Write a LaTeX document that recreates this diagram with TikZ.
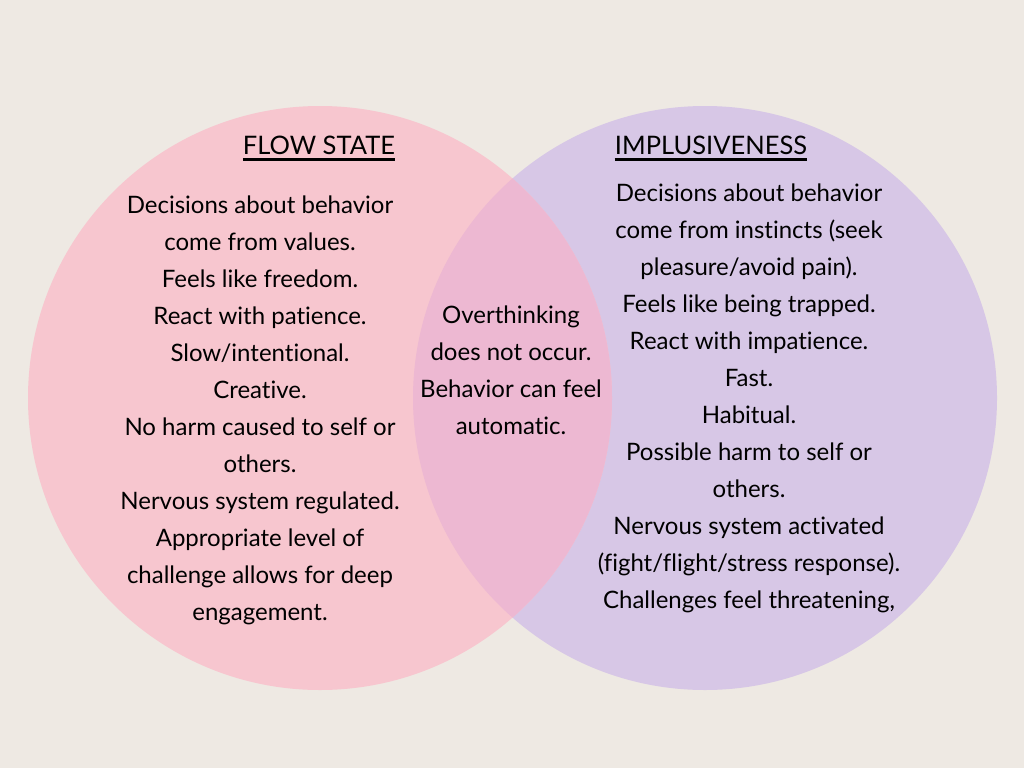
\documentclass[tikz,border=0pt]{standalone}
\usepackage{fontspec}
\setmainfont{Lato}[Ligatures=NoCommon]
\usepackage{tikz}
\usetikzlibrary{positioning}

\definecolor{bgbeige}{HTML}{EEE9E3}
\definecolor{flowpink}{HTML}{F7C6CF}
\definecolor{implpurple}{HTML}{D7C7E6}
\definecolor{mixpink}{HTML}{EDB8D2}

\begin{document}
\begin{tikzpicture}[
  x=1pt, y=-1pt,
  body/.style  = {align=center, inner sep=0pt, text=black,
                  font=\fontsize{24}{37}\selectfont},
  title/.style = {inner sep=0pt, text=black,
                  font=\fontsize{25.5}{28}\selectfont},
]
%--- background and circles ---
  \fill[bgbeige] (0,0) rectangle (1024,768);
  \useasboundingbox (0,0) rectangle (1024,768);
  \fill[implpurple] (705,398) circle (292);
  \fill[flowpink]   (320,398) circle (292);
  \begin{scope}
    \clip (705,398) circle (292);
    \fill[mixpink] (320,398) circle (292);
  \end{scope}

%--- Left: flow state ---
  \node[title] (ftitle) at (319,145) {FLOW STATE};
  \draw[line width=3pt] ([yshift=-5pt]ftitle.south west) -- ([yshift=-5pt]ftitle.south east);
  \node[body] (fbody) at (260,410) {Decisions about behavior\\
    come from values.\\
    Feels like freedom.\\
    React with patience.\\
    Slow/intentional.\\
    Creative.\\
    No harm caused to self or\\
    others.\\
    Nervous system regulated.\\
    Appropriate level of\\
    challenge allows for deep\\
    engagement.};

%--- Middle: overlap ---
  \node[body] (both) at (511,370) {Overthinking\\
    does not occur.\\
    Behavior can feel\\
    automatic.};

%--- Right: impulsiveness ---
  \node[title] (ititle) at (711,145) {IMPLUSIVENESS};
  \draw[line width=3pt] ([yshift=-5pt]ititle.south west) -- ([yshift=-5pt]ititle.south east);
  \node[body] (ibody) at (749,398) {Decisions about behavior\\
    come from instincts (seek\\
    pleasure/avoid pain).\\
    Feels like being trapped.\\
    React with impatience.\\
    Fast.\\
    Habitual.\\
    Possible harm to self or\\
    others.\\
    Nervous system activated\\
    (fight/flight/stress response).\\
    Challenges feel threatening,};
\end{tikzpicture}
\end{document}
